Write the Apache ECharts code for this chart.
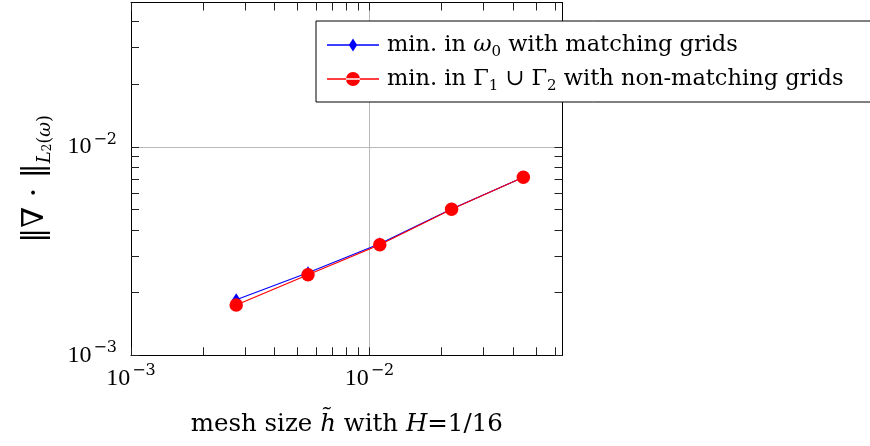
<!DOCTYPE html>
<html>
<head>
<meta charset="utf-8">
<script src="https://cdn.jsdelivr.net/npm/echarts@6/dist/echarts.min.js"></script>
<style>html,body{margin:0;padding:0;background:#fff;}#c{width:870px;height:446px;}</style>
</head>
<body>
<div id="c"></div>
<script>
// ---- data ----
const meshSizes = [0.002762, 0.005524, 0.01105, 0.0221, 0.04419];
const errMatching = [0.001849, 0.002492, 0.00343, 0.00504, 0.00716];
const errNonMatching = [0.001743, 0.002437, 0.003396, 0.005022, 0.007153];
const xLimits = [0.001, 0.0645];
const yLimits = [0.001, 0.0494];
const xMajorTicks = [0.001, 0.01];
const xMinorTicks = [0.002, 0.003, 0.004, 0.005, 0.006, 0.007, 0.008, 0.009, 0.02, 0.03, 0.04, 0.05, 0.06];
const yMajorTicks = [0.001, 0.01];
const yMinorTicks = [0.002, 0.003, 0.004, 0.005, 0.006, 0.007, 0.008, 0.009, 0.02, 0.03, 0.04];
const xGridLines = [0.01];
const yGridLines = [0.01];
const seriesNames = ['matching', 'nonmatching'];
const legendLabels = {
  matching: '{r|min. in }{i|ω}{sub|0}{r| with matching grids}',
  nonmatching: '{r|min. in Γ}{sub|1}{r| ∪ Γ}{sub|2}{r| with non-matching grids}'
};
const xTitle = '{r|mesh size }{i|h̃}{r| with }{i|H}{r|=1/16}';
const yTitle = '{b|‖∇ · ‖}{si|L}{ss|2}{s|(}{si|ω}{s|)}';

const L = Math.log10;
const SERIF = '"DejaVu Serif", serif';
const NUM = '"Liberation Serif", "DejaVu Serif", serif';

const tickLabelRich = {
  b: {fontFamily: NUM, fontSize: 24, lineHeight: 30, color: '#000'},
  e: {fontFamily: SERIF, fontSize: 16, lineHeight: 17, verticalAlign: 'top', color: '#000', padding: [0, 0, 0, 2]}
};
function expLabel(v) {
  const e = Math.round(v);
  return '{b|10}{e|' + (e < 0 ? '\u2212' + (-e) : e) + '}';
}
const allXTicks = xMajorTicks.concat(xMinorTicks).map(L);
const allYTicks = yMajorTicks.concat(yMinorTicks).map(L);

const tickStyle = {inside: true, length: 8, lineStyle: {color: '#222', width: 1}};
const frameLine = {show: true, lineStyle: {color: '#000', width: 1}};
const gridLine = {show: true, lineStyle: {color: '#b8b8b8', width: 1}};

function gridAxis(limits, lines, pos) {
  return {
    type: 'value', position: pos, min: L(limits[0]), max: L(limits[1]), interval: 1,
    axisLine: {show: false}, axisLabel: {show: false},
    axisTick: {show: false, customValues: lines.map(L)},
    splitLine: gridLine, z: 0
  };
}

const chart = echarts.init(document.getElementById('c'), null, {renderer: 'canvas'});
chart.setOption({
  animation: false,
  backgroundColor: '#fff',
  grid: {left: 131, right: 307.5, top: 2.5, bottom: 90.7, outerBoundsMode: 'none', containLabel: false},
  xAxis: [
    gridAxis(xLimits, xGridLines, 'bottom'),
    {
      type: 'value', position: 'bottom',
      min: L(xLimits[0]), max: L(xLimits[1]), interval: 1,
      axisLine: frameLine,
      axisTick: Object.assign({customValues: allXTicks}, tickStyle),
      axisLabel: {customValues: xMajorTicks.map(L), formatter: expLabel, rich: tickLabelRich, margin: 8},
      splitLine: {show: false},
      name: xTitle, nameLocation: 'middle', nameGap: 54,
      nameTextStyle: {rich: {
        r: {fontFamily: SERIF, fontSize: 24.5, lineHeight: 30, color: '#000'},
        i: {fontFamily: SERIF, fontSize: 24.5, lineHeight: 30, fontStyle: 'italic', color: '#000'}
      }}
    },
    {
      type: 'value', position: 'top',
      min: L(xLimits[0]), max: L(xLimits[1]), interval: 1,
      axisLine: frameLine,
      axisTick: Object.assign({customValues: allXTicks}, tickStyle),
      axisLabel: {show: false},
      splitLine: {show: false}
    }
  ],
  yAxis: [
    gridAxis(yLimits, yGridLines, 'left'),
    {
      type: 'value', position: 'left',
      min: L(yLimits[0]), max: L(yLimits[1]), interval: 1,
      axisLine: frameLine,
      axisTick: Object.assign({customValues: allYTicks}, tickStyle),
      axisLabel: {customValues: yMajorTicks.map(L), formatter: expLabel, rich: tickLabelRich, margin: 14},
      splitLine: {show: false},
      name: yTitle, nameLocation: 'middle', nameGap: 77, nameRotate: 90,
      nameTextStyle: {rich: {
        b: {fontFamily: SERIF, fontSize: 30, lineHeight: 38, color: '#000'},
        s: {fontFamily: SERIF, fontSize: 18, lineHeight: 18, verticalAlign: 'bottom', color: '#000'},
        si: {fontFamily: SERIF, fontSize: 18, lineHeight: 18, verticalAlign: 'bottom', fontStyle: 'italic', color: '#000'},
        ss: {fontFamily: SERIF, fontSize: 12, lineHeight: 36, verticalAlign: 'bottom', color: '#000'}
      }}
    },
    {
      type: 'value', position: 'right',
      min: L(yLimits[0]), max: L(yLimits[1]), interval: 1,
      axisLine: frameLine,
      axisTick: Object.assign({customValues: allYTicks}, tickStyle),
      axisLabel: {show: false},
      splitLine: {show: false}
    }
  ],
  legend: {
    orient: 'vertical', left: 316, top: 21,
    itemWidth: 52, itemHeight: 14, itemGap: 4,
    padding: [9, 40, 8, 11],
    borderColor: '#000', borderWidth: 1, backgroundColor: '#fff',
    formatter: name => legendLabels[name],
    textStyle: {
      fontFamily: SERIF, fontSize: 22.5, lineHeight: 30,
      padding: [0, 0, 0, 3],
      rich: {
        r: {fontFamily: SERIF, fontSize: 22.5, lineHeight: 30, color: '#000'},
        i: {fontFamily: SERIF, fontSize: 22.5, lineHeight: 30, fontStyle: 'italic', color: '#000'},
        sub: {fontFamily: SERIF, fontSize: 15, lineHeight: 15, verticalAlign: 'bottom', color: '#000'}
      }
    },
    data: [
      {name: seriesNames[0], icon: 'path://M0,6.3 L52,6.3 L52,7.7 L0,7.7 Z M26,0.5 L30.2,7 L26,13.5 L21.8,7 Z'},
      {name: seriesNames[1], icon: 'path://M0,6.3 L52,6.3 L52,7.7 L0,7.7 Z M19,7 A7,7 0 1,0 33,7 A7,7 0 1,0 19,7 Z'}
    ]
  },
  series: [
    {
      name: seriesNames[0], type: 'line', xAxisIndex: 1, yAxisIndex: 1,
      data: meshSizes.map((h, i) => [L(h), L(errMatching[i])]),
      symbol: 'diamond', symbolSize: [8.5, 13],
      itemStyle: {color: '#0000ff'}, lineStyle: {color: '#0000ff', width: 1.2}, z: 3
    },
    {
      name: seriesNames[1], type: 'line', xAxisIndex: 1, yAxisIndex: 1,
      data: meshSizes.map((h, i) => [L(h), L(errNonMatching[i])]),
      symbol: 'circle', symbolSize: 13.5,
      itemStyle: {color: '#ff0000'}, lineStyle: {color: '#ff0000', width: 1.2}, z: 4
    }
  ]
});
</script>
</body>
</html>
